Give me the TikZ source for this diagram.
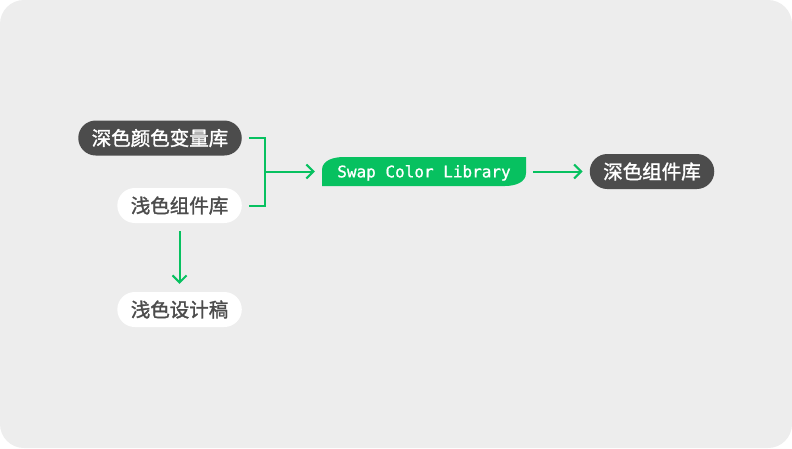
\documentclass[tikz,border=0pt]{standalone}
\usepackage{fontspec}
\newfontfamily\cjk[FakeBold=1.5]{Noto Sans CJK SC}
\newfontfamily\swapmono[FakeBold=1]{DejaVu Sans Mono}
\usetikzlibrary{arrows.meta}
\definecolor{canvas}{HTML}{EDEDED}
\definecolor{brand}{HTML}{07C160}
\definecolor{ink}{HTML}{4C4C4C}

\begin{document}
\begin{tikzpicture}[x=1pt,y=-1pt,
  pill/.style={rounded corners=17.5pt,minimum height=35pt,inner xsep=13.5pt,inner ysep=0pt,
    font=\cjk\fontsize{19.5}{19.5}\selectfont},
  darkpill/.style={pill,fill=ink,text=white},
  lightpill/.style={pill,fill=white,text=ink},
  leaf/.style={minimum width=204pt,minimum height=29pt,inner sep=0pt,text=white,
    text height=11.7pt,text depth=0pt,font=\swapmono\fontsize{16}{16}\selectfont,
    path picture={\fill[brand] (path picture bounding box.south west)
      -- ([yshift=-13pt]path picture bounding box.north west)
      to[out=90,in=180] ([xshift=22pt]path picture bounding box.north west)
      -- (path picture bounding box.north east)
      -- ([yshift=13pt]path picture bounding box.south east)
      to[out=-90,in=0] ([xshift=-21pt]path picture bounding box.south east) -- cycle;}},
  link/.style={brand,line width=2pt},
  tip/.style={link,-{Straight Barb[length=7pt,width=14pt]}}]
\fill[white] (0,0) rectangle (792,448);
\fill[canvas,rounded corners=24pt] (0,0) rectangle (792,448);

\node[darkpill] (darkvars) at (160,138) {深色颜色变量库};
\node[lightpill,anchor=east] (lightlib) at (242,205.5) {浅色组件库};
\node[lightpill,anchor=east] (lightdesign) at (242,309.5) {浅色设计稿};
\node[leaf] (swap) at (424,171.5) {Swap Color Library};
\node[darkpill] (darklib) at (652,171.5) {深色组件库};

\coordinate (fork) at (265,171.5);
\draw[link] ([xshift=7pt]darkvars.east) -| (fork) |- ([xshift=7pt]lightlib.east);
\draw[tip] (fork) -- ([xshift=-7pt]swap.west);
\draw[tip] ([xshift=7pt]swap.east) -- ([xshift=-7pt]darklib.west);
\draw[tip] ([yshift=-8pt]lightlib.south) -- ([yshift=8pt]lightdesign.north);
\end{tikzpicture}
\end{document}
